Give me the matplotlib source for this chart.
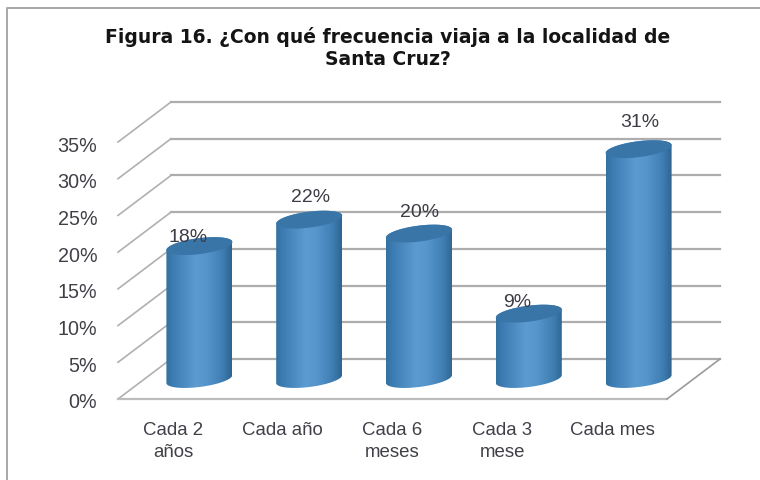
import numpy as np
import matplotlib
matplotlib.use("Agg")
import matplotlib.pyplot as plt
from matplotlib.colors import LinearSegmentedColormap
from matplotlib.lines import Line2D
from matplotlib.patches import Polygon
from matplotlib.transforms import ScaledTranslation

categories = ["Cada 2\naños", "Cada año", "Cada 6\nmeses", "Cada 3\nmese", "Cada mes"]
values = [18.1, 21.7, 19.8, 8.9, 31.3]
value_labels = ["18%", "22%", "20%", "9%", "31%"]
yticks = [0, 5, 10, 15, 20, 25, 30, 35]
ytick_labels = ["0%", "5%", "10%", "15%", "20%", "25%", "30%", "35%"]
title = "Figura 16. ¿Con qué frecuencia viaja a la localidad de\nSanta Cruz?"

# label placement (pixel offsets from the top-centre of each cylinder)
label_dx = [-11, 1, 1, -12, 1]
label_dy = [10, 23.5, 22.5, 12, 28]

W, H = 760, 481
fig = plt.figure(figsize=(W / 100, H / 100), dpi=100, facecolor="white")
L, R, B0, T0 = 118, 667, 400, 143
ax = fig.add_axes([L / W, (H - B0) / H, (R - L) / W, (B0 - T0) / H])
ax.set_facecolor("none")
n = len(categories)

px_x = (R - L) / n          # pixels per category
px_y = (B0 - T0) / 35       # pixels per percentage point
depth_x = 53 / px_x
depth_y = 40 / px_y

GRID = "#adadad"
for v in yticks:
    ax.plot([0, depth_x], [v, v + depth_y], color="#b0b0b0", lw=1.2, clip_on=False, zorder=1)
    ax.plot([depth_x, n + depth_x], [v + depth_y] * 2, color=GRID, lw=1.6, clip_on=False, zorder=1)
ax.plot([0, n], [0, 0], color="#bdbdbd", lw=1.6, clip_on=False, zorder=1)
ax.plot([n, n + depth_x], [0, depth_y], color="#9a9a9a", lw=1.2, clip_on=False, zorder=1)

cmap = LinearSegmentedColormap.from_list("cyl", [
    (0.00, "#33719f"), (0.10, "#3c7cb3"), (0.45, "#5b9bd0"), (0.62, "#5595cb"),
    (0.86, "#3f7eb3"), (1.00, "#2e648f")])
gradient = np.linspace(0, 1, 256).reshape(1, -1)

half_w = 33 / px_x
semi_b = 8 / px_y
tilt = 4 / px_y
t = np.linspace(0, 2 * np.pi, 121)

def ellipse(cx, cy, ts):
    return cx + half_w * np.cos(ts), cy + semi_b * np.sin(ts) + tilt * np.cos(ts)

for i, v in enumerate(values):
    cx = i + 0.5 + depth_x / 2
    base = depth_y / 2
    top = base + v
    xb, yb = ellipse(cx, base, np.linspace(np.pi, 2 * np.pi, 60))
    xt, yt = ellipse(cx, top, np.linspace(0, np.pi, 60))
    body = Polygon(np.column_stack([np.r_[xb, xt], np.r_[yb, yt]]), closed=True,
                   transform=ax.transData, facecolor="none", edgecolor="none", clip_on=False)
    ax.add_patch(body)
    im = ax.imshow(gradient, extent=[cx - half_w, cx + half_w, base - 2, top + 2],
                   cmap=cmap, aspect="auto", zorder=2, interpolation="bilinear")
    im.set_clip_box(fig.bbox)
    im.set_clip_path(body)
    xc, yc = ellipse(cx, top, t)
    ax.fill(xc, yc, color="#3a75a8", lw=0, zorder=3, clip_on=False)
    ax.annotate(value_labels[i], xy=(cx, top), xytext=(label_dx[i] * 0.72, label_dy[i] * 0.72),
                textcoords="offset points", ha="center", va="center",
                fontsize=14, color="#3c3c46", family="Liberation Sans",
                zorder=5, annotation_clip=False)

ax.set_xlim(0, n)
ax.set_ylim(0, 35)
for s in ax.spines.values():
    s.set_visible(False)
ax.set_yticks(yticks)
ax.set_yticklabels(ytick_labels, fontsize=14.2, color="#404048", family="Liberation Sans")
ax.set_xticks(np.arange(n) + 0.5)
ax.set_xticklabels(categories, fontsize=13.4, color="#404048", family="Liberation Sans",
                   linespacing=1.45)
ax.tick_params(axis="both", length=0)
ax.tick_params(axis="y", pad=15)
ax.tick_params(axis="x", pad=15.5)
shift = ScaledTranslation(0, -1 / 100, fig.dpi_scale_trans)
for lab in ax.get_yticklabels():
    lab.set_transform(lab.get_transform() + shift)

fig.text(388 / W, 1 - 48 / H, title, ha="center", va="center", fontsize=13.5,
         fontweight="bold", color="#141414", family="DejaVu Sans", linespacing=1.25)

fig.add_artist(Line2D([6.5 / W, 6.5 / W, 1], [0, 1 - 9 / H, 1 - 9 / H],
                      color="#a8a8a8", lw=1.4, transform=fig.transFigure))

fig.savefig("out.png", dpi=100, facecolor="white")
